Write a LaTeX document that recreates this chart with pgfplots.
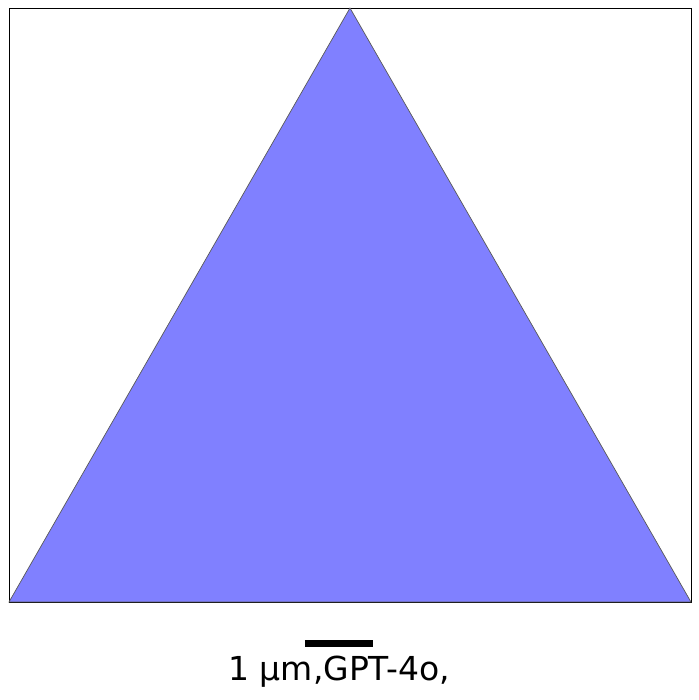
\documentclass[border=0pt]{standalone}
\usepackage{pgfplots}
\pgfplotsset{compat=1.18}
\usepackage{fontspec}
\setmainfont{DejaVu Sans}
\begin{document}
\begin{tikzpicture}[x=1pt,y=1pt]
\begin{axis}[scale only axis, width=682pt, height=594pt,
  xmin=0,xmax=1,ymin=0,ymax=1, ticks=none, clip=false,
  axis line style={black, line width=0.6pt}]
\addplot[fill={rgb,255:red,128;green,128;blue,255}, draw=black!65, line width=0.7pt] coordinates {(0,0) (0.5,1) (1,0)} -- cycle;
\draw[black, line width=7pt] (axis cs:0.434,-0.0707) -- (axis cs:0.534,-0.0707);
\node[font=\fontsize{33}{40}\selectfont, anchor=center] at (axis cs:0.484,-0.118) {1 µm,GPT-4o,};
\path (rel axis cs:-0.0132,-0.165) rectangle (rel axis cs:1.0117,1.0135);
\end{axis}
\end{tikzpicture}
\end{document}
